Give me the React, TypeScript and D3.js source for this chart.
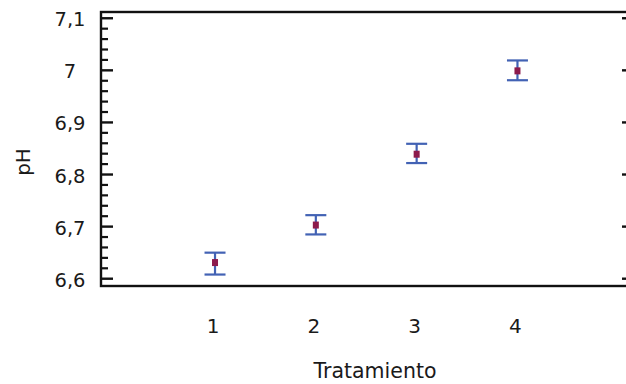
import { range, scaleLinear } from 'd3'

const treatments = [1, 2, 3, 4]
const treatmentLabels = ['1', '2', '3', '4']
const phMeans = [6.631, 6.703, 6.839, 6.999]
const phLower = [6.608, 6.685, 6.822, 6.981]
const phUpper = [6.65, 6.722, 6.859, 7.019]
const yTickValues = [6.6, 6.7, 6.8, 6.9, 7.0, 7.1]
const yTickLabels = ['6,6', '6,7', '6,8', '6,9', '7', '7,1']

const width = 626
const height = 384
const left = 101
const right = 634
const top = 12
const bottom = 286
const font = '"DejaVu Sans", Verdana, sans-serif'
const barColor = '#4262b4'
const markColor = '#8c1a4c'

export default function App() {
  const xScale = scaleLinear().domain([-0.131, 5.156]).range([left, right])
  const yScale = scaleLinear().domain([6.586, 7.112]).range([bottom, top])
  const minorTicks = range(6.6, 7.1001, 0.02).filter(
    (value) => Math.abs(Math.round(value * 10) - value * 10) > 0.01,
  )

  return (
    <svg
      width={width}
      height={height}
      style={{ position: 'absolute', left: 0, top: 0, background: '#fff' }}
      fontFamily={font}
    >
      {/* ticks, inward on both sides */}
      {yTickValues.map((value) => (
        <g key={`major-${value}`} stroke="#111" strokeWidth={2.4}>
          <line x1={left} x2={left + 12} y1={yScale(value)} y2={yScale(value)} />
          <line x1={right - 12} x2={right} y1={yScale(value)} y2={yScale(value)} />
        </g>
      ))}
      {minorTicks.map((value) => (
        <g key={`minor-${value.toFixed(2)}`} stroke="#111" strokeWidth={2.2}>
          <line x1={left} x2={left + 7} y1={yScale(value)} y2={yScale(value)} />
          <line x1={right - 7} x2={right} y1={yScale(value)} y2={yScale(value)} />
        </g>
      ))}
      <rect
        x={left}
        y={top}
        width={right - left}
        height={bottom - top}
        fill="none"
        stroke="#111"
        strokeWidth={2.4}
      />

      {yTickValues.map((value, index) => (
        <text
          key={`label-${value}`}
          x={70}
          y={yScale(value) + 1.5}
          textAnchor="middle"
          dominantBaseline="central"
          fontSize={19.5}
          fill="#1a1a1a"
        >
          {yTickLabels[index]}
        </text>
      ))}
      {treatments.map((value, index) => (
        <text
          key={`x-${value}`}
          x={xScale(value) - 2}
          y={333}
          textAnchor="middle"
          fontSize={20}
          fill="#1a1a1a"
        >
          {treatmentLabels[index]}
        </text>
      ))}

      <text x={375} y={378} textAnchor="middle" fontSize={20.5} fill="#1a1a1a">
        Tratamiento
      </text>
      <text
        transform={`translate(30, 162) rotate(-90)`}
        textAnchor="middle"
        fontSize={20}
        fill="#1a1a1a"
      >
        pH
      </text>

      {treatments.map((value, index) => {
        const cx = xScale(value)
        return (
          <g key={`bar-${value}`}>
            <g stroke={barColor} strokeWidth={2.2}>
              <line x1={cx} x2={cx} y1={yScale(phUpper[index])} y2={yScale(phLower[index])} />
              <line
                x1={cx - 10.5}
                x2={cx + 10.5}
                y1={yScale(phUpper[index])}
                y2={yScale(phUpper[index])}
              />
              <line
                x1={cx - 10.5}
                x2={cx + 10.5}
                y1={yScale(phLower[index])}
                y2={yScale(phLower[index])}
              />
            </g>
            <rect
              x={cx - 3}
              y={yScale(phMeans[index]) - 3.5}
              width={6}
              height={7}
              fill={markColor}
            />
          </g>
        )
      })}
    </svg>
  )
}
